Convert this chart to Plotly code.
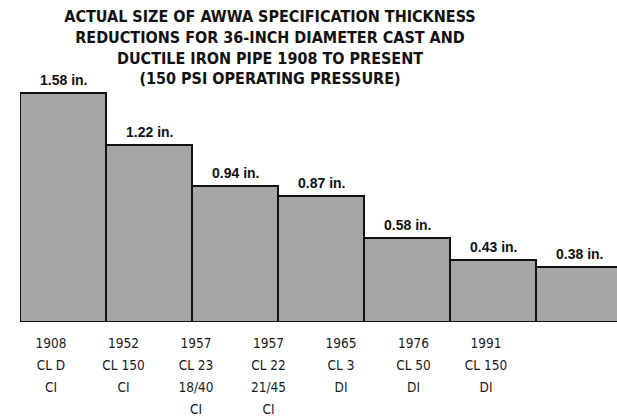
import plotly.graph_objects as go

years = ["1908", "1952", "1957", "1957", "1965", "1976", "1991"]
classes = ["CL D", "CL 150", "CL 23", "CL 22", "CL 3", "CL 50", "CL 150"]
extra = ["", "", "18/40", "21/45", "", "", ""]
materials = ["CI", "CI", "CI", "CI", "DI", "DI", "DI"]
thickness = [1.58, 1.22, 0.94, 0.87, 0.58, 0.43, 0.38]
value_labels = ["1.58 in.", "1.22 in.", "0.94 in.", "0.87 in.", "0.58 in.", "0.43 in.", "0.38 in."]

positions = list(range(len(thickness)))

def tick_text(i):
    parts = [years[i], classes[i]]
    if extra[i]:
        parts.append(extra[i])
    parts.append(materials[i])
    return "<br>".join('<span style="font-size:13.5px">%s</span>' % p for p in parts)

ticktext = [tick_text(i) for i in positions]

NARROW = "DejaVu Sans Condensed, Liberation Sans Narrow, Liberation Sans, Arial"

fig = go.Figure()
fig.add_trace(go.Bar(
    x=positions, y=thickness, width=1,
    marker=dict(color="#a6a6a6", line=dict(color="#111111", width=2)),
    hoverinfo="skip", showlegend=False,
))
fig.add_trace(go.Scatter(
    x=positions, y=[0] * len(positions), xaxis="x2", yaxis="y",
    mode="markers", marker=dict(opacity=0), hoverinfo="skip", showlegend=False,
))

for p, v, lab in zip(positions, thickness, value_labels):
    fig.add_annotation(
        x=p, y=v, xref="x", yref="y", text=lab, showarrow=False,
        yanchor="bottom", yshift=3,
        font=dict(family="Liberation Sans, Arial", size=14, color="#111111", weight="bold"),
    )

fig.update_layout(
    width=617, height=416,
    margin=dict(l=20, r=0, t=90, b=94),
    paper_bgcolor="white", plot_bgcolor="white",
    bargap=0,
    title=dict(
        text="ACTUAL SIZE OF AWWA SPECIFICATION THICKNESS<br>REDUCTIONS FOR 36-INCH DIAMETER CAST AND<br>DUCTILE IRON PIPE 1908 TO PRESENT<br>(150 PSI OPERATING PRESSURE)",
        font=dict(family=NARROW, size=16, color="#111111", weight="bold"),
        x=270 / 617, xanchor="center", xref="container",
        y=1 - 22 / 416, yanchor="top", yref="container",
    ),
    xaxis=dict(range=[-0.5, -0.5 + 597 / 86], showticklabels=False, showgrid=False,
               zeroline=False, showline=False, ticks=""),
    xaxis2=dict(range=[-31 / 72.5, 566 / 72.5], overlaying="x", anchor="y", side="bottom",
                tickmode="array", tickvals=positions, ticktext=ticktext,
                showgrid=False, zeroline=False, showline=False, ticks="",
                ticklabelstandoff=8,
                tickfont=dict(family=NARROW, size=17, color="#1a1a1a")),
    yaxis=dict(range=[0, 1.6], visible=False),
)

fig.write_html("out.html", config={"displayModeBar": False},
               post_script="document.body.style.margin='0';")
